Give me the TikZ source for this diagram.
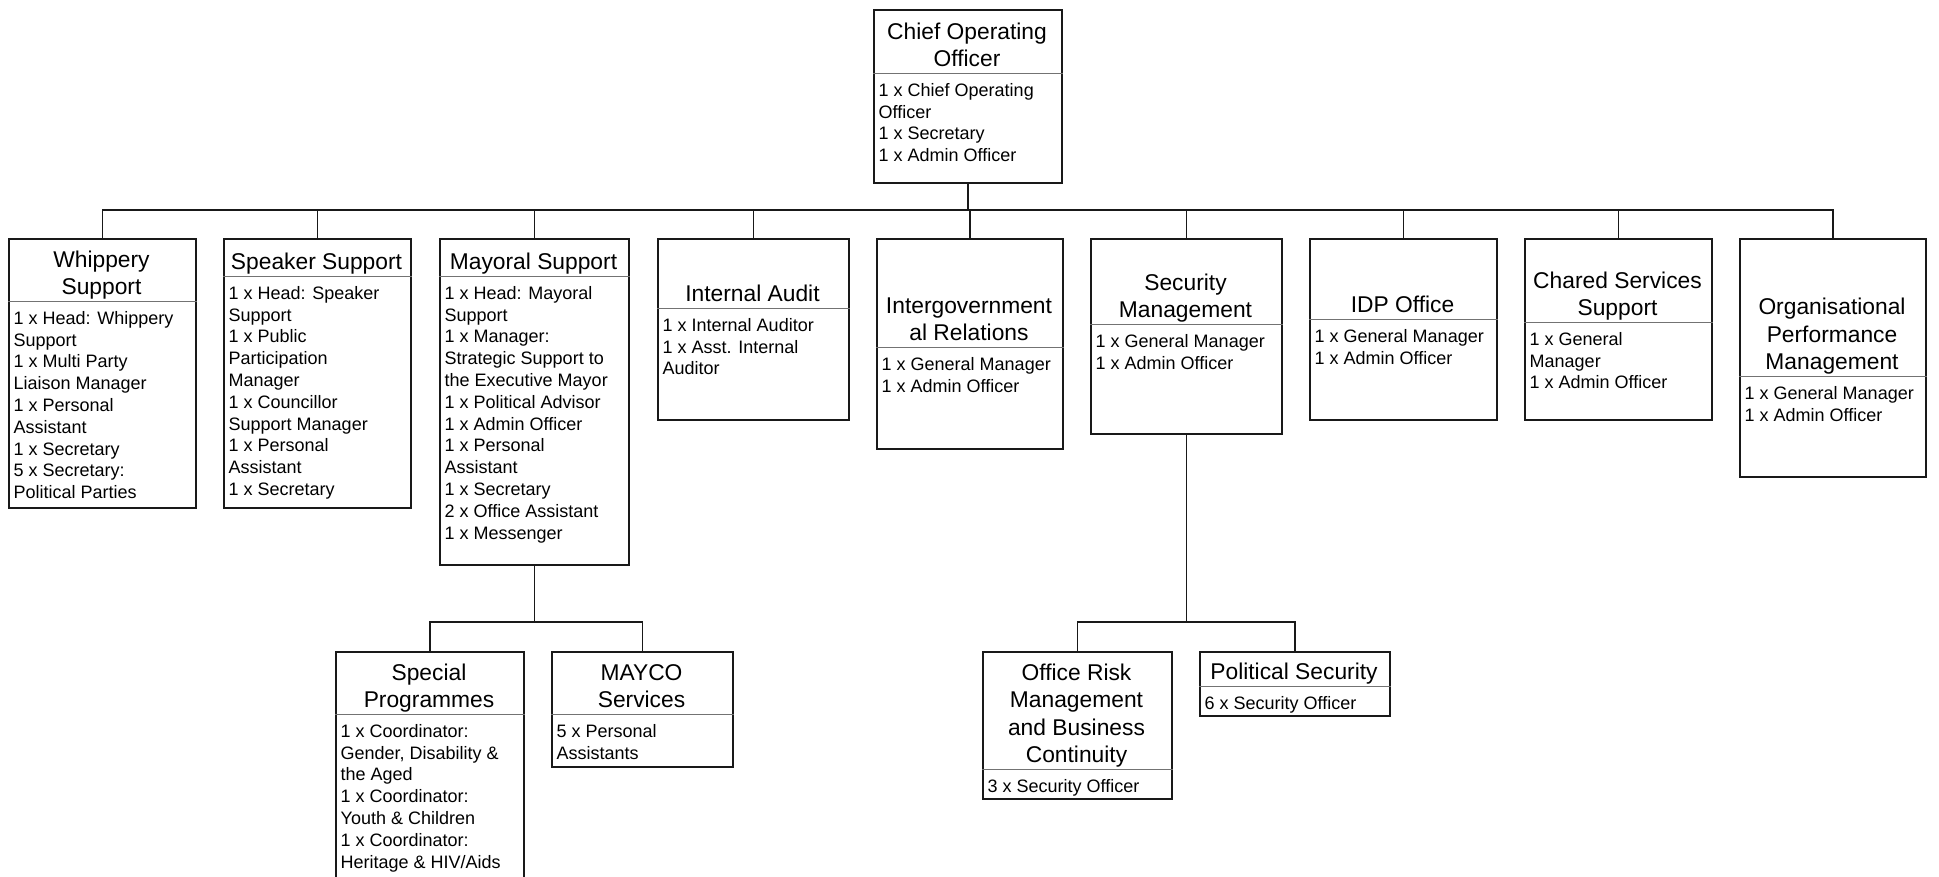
\documentclass[tikz,border=0pt]{standalone}
\usepackage{fontspec}
\setmainfont{Liberation Sans}
\tikzset{
  unit/.style={draw=black!90, line width=1.6pt, rectangle, inner sep=0pt, anchor=north west},
  unithead/.style={anchor=south, align=center, inner sep=1pt, font=\fontsize{22.8}{27.5}\selectfont,
    execute at end node={\rule[-5pt]{0pt}{5pt}}},
  staff/.style={anchor=north west, align=left, inner xsep=5.5pt, inner ysep=10pt, font=\fontsize{18}{21.8}\selectfont},
  divider/.style={draw=black!55, line width=1pt},
  link/.style={draw=black!90, line width=1.6pt},
}
\begin{document}
\begin{tikzpicture}[x=1pt,y=-1pt]
 \useasboundingbox (0,0) rectangle (1939,876);
 \clip (0,0) rectangle (1939,876);

 % top
 \node[unit, minimum width=188, minimum height=173] (coo) at (873,9) {};
 \node[unithead] (coot) at (967,73) {Chief Operating\\Officer};
 \draw[divider] (coot.south -| coo.west) -- (coot.south -| coo.east);
 \node[staff] (coob) at (coot.south -| coo.west) {1 x Chief Operating\\Officer\\1 x Secretary\\1 x Admin Officer};

 % first row
 \node[unit, minimum width=187, minimum height=269] (whip) at (8,238) {};
 \node[unithead] (whipt) at (101.5,301) {Whippery\\Support};
 \draw[divider] (whipt.south -| whip.west) -- (whipt.south -| whip.east);
 \node[staff] (whipb) at (whipt.south -| whip.west) {1 x Head: Whippery\\Support\\1 x Multi Party\\Liaison Manager\\1 x Personal\\Assistant\\1 x Secretary\\5 x Secretary:\\Political Parties};

 \node[unit, minimum width=187, minimum height=269] (speak) at (223,238) {};
 \node[unithead] (speakt) at (316.5,276) {Speaker Support};
 \draw[divider] (speakt.south -| speak.west) -- (speakt.south -| speak.east);
 \node[staff] (speakb) at (speakt.south -| speak.west) {1 x Head: Speaker\\Support\\1 x  Public\\Participation\\Manager\\1 x Councillor\\Support Manager\\1 x Personal\\Assistant\\1 x Secretary};

 \node[unit, minimum width=189, minimum height=326] (mayor) at (439,238) {};
 \node[unithead] (mayort) at (533.5,276) {Mayoral Support};
 \draw[divider] (mayort.south -| mayor.west) -- (mayort.south -| mayor.east);
 \node[staff] (mayorb) at (mayort.south -| mayor.west) {1 x Head: Mayoral\\Support\\1 x Manager:\\Strategic Support to\\the Executive Mayor\\1 x Political Advisor\\1 x Admin Officer\\1 x Personal\\Assistant\\1 x Secretary\\2 x Office Assistant\\1 x Messenger};

 \node[unit, minimum width=191, minimum height=181] (audit) at (657,238) {};
 \node[unithead] (auditt) at (752.5,308) {Internal Audit};
 \draw[divider] (auditt.south -| audit.west) -- (auditt.south -| audit.east);
 \node[staff] (auditb) at (auditt.south -| audit.west) {1 x Internal Auditor\\1 x Asst. Internal\\Auditor};

 \node[unit, minimum width=186, minimum height=210] (igr) at (876,238) {};
 \node[unithead] (igrt) at (969,347) {Intergovernment\\al Relations};
 \draw[divider] (igrt.south -| igr.west) -- (igrt.south -| igr.east);
 \node[staff] (igrb) at (igrt.south -| igr.west) {1 x General Manager\\1 x Admin Officer};

 \node[unit, minimum width=191, minimum height=195] (secm) at (1090,238) {};
 \node[unithead] (secmt) at (1185.5,324) {Security\\Management};
 \draw[divider] (secmt.south -| secm.west) -- (secmt.south -| secm.east);
 \node[staff] (secmb) at (secmt.south -| secm.west) {1 x General Manager\\1 x Admin Officer};

 \node[unit, minimum width=187, minimum height=181] (idp) at (1309,238) {};
 \node[unithead] (idpt) at (1402.5,319) {IDP Office};
 \draw[divider] (idpt.south -| idp.west) -- (idpt.south -| idp.east);
 \node[staff] (idpb) at (idpt.south -| idp.west) {1 x General Manager\\1 x Admin Officer};

 \node[unit, minimum width=187, minimum height=181] (shared) at (1524,238) {};
 \node[unithead] (sharedt) at (1617.5,322) {Chared Services\\Support};
 \draw[divider] (sharedt.south -| shared.west) -- (sharedt.south -| shared.east);
 \node[staff] (sharedb) at (sharedt.south -| shared.west) {1 x General\\Manager\\1 x Admin Officer};

 \node[unit, minimum width=186, minimum height=238] (opm) at (1739,238) {};
 \node[unithead] (opmt) at (1832,376) {Organisational\\Performance\\Management};
 \draw[divider] (opmt.south -| opm.west) -- (opmt.south -| opm.east);
 \node[staff] (opmb) at (opmt.south -| opm.west) {1 x General Manager\\1 x Admin Officer};

 % second row
 \node[unit, minimum width=188, minimum height=240] (spec) at (335,651) {};
 \node[unithead] (spect) at (429,714) {Special\\Programmes};
 \draw[divider] (spect.south -| spec.west) -- (spect.south -| spec.east);
 \node[staff] (specb) at (spect.south -| spec.west) {1 x Coordinator:\\Gender, Disability \&\\the Aged\\1 x Coordinator:\\Youth \& Children\\1 x Coordinator:\\Heritage \& HIV/Aids};

 \node[unit, minimum width=181, minimum height=115] (mayco) at (551,651) {};
 \node[unithead] (maycot) at (641.5,714) {MAYCO\\Services};
 \draw[divider] (maycot.south -| mayco.west) -- (maycot.south -| mayco.east);
 \node[staff] (maycob) at (maycot.south -| mayco.west) {5 x Personal\\Assistants};

 \node[unit, minimum width=189, minimum height=147] (risk) at (982,651) {};
 \node[unithead] (riskt) at (1076.5,769) {Office Risk\\Management\\and Business\\Continuity};
 \draw[divider] (riskt.south -| risk.west) -- (riskt.south -| risk.east);
 \node[staff] (riskb) at (riskt.south -| risk.west) {3 x Security Officer};

 \node[unit, minimum width=190, minimum height=64] (polsec) at (1199,651) {};
 \node[unithead] (polsect) at (1294,686) {Political Security};
 \draw[divider] (polsect.south -| polsec.west) -- (polsect.south -| polsec.east);
 \node[staff] (polsecb) at (polsect.south -| polsec.west) {6 x Security Officer};

 % lines
 \coordinate (topbus) at (0,210);
 \coordinate (lowbus) at (0,622);
 \draw[link] (coo.south) -- (coo.south |- topbus) -| (whip.north);
 \draw[link] (coo.south) -- (coo.south |- topbus) -| (speak.north);
 \draw[link] (coo.south) -- (coo.south |- topbus) -| (mayor.north);
 \draw[link] (coo.south) -- (coo.south |- topbus) -| (audit.north);
 \draw[link] (coo.south) -- (coo.south |- topbus) -| (igr.north);
 \draw[link] (coo.south) -- (coo.south |- topbus) -| (secm.north);
 \draw[link] (coo.south) -- (coo.south |- topbus) -| (idp.north);
 \draw[link] (coo.south) -- (coo.south |- topbus) -| (shared.north);
 \draw[link] (coo.south) -- (coo.south |- topbus) -| (opm.north);
 \draw[link] (mayor.south) -- (mayor.south |- lowbus) -| (spec.north);
 \draw[link] (mayor.south) -- (mayor.south |- lowbus) -| (mayco.north);
 \draw[link] (secm.south) -- (secm.south |- lowbus) -| (risk.north);
 \draw[link] (secm.south) -- (secm.south |- lowbus) -| (polsec.north);
\end{tikzpicture}
\end{document}
